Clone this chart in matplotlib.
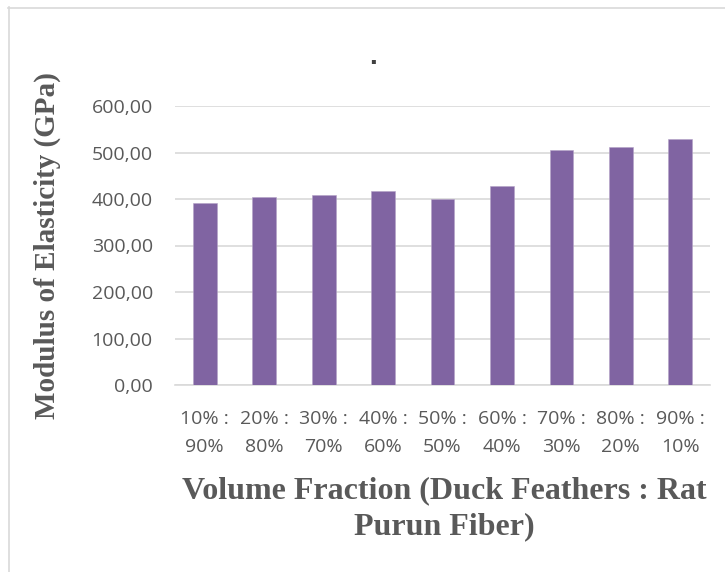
import matplotlib
matplotlib.use("Agg")
import matplotlib.pyplot as plt
from matplotlib.lines import Line2D

# Data
categories = ["10% :\n90%", "20% :\n80%", "30% :\n70%", "40% :\n60%", "50% :\n50%",
              "60% :\n40%", "70% :\n30%", "80% :\n20%", "90% :\n10%"]
modulus_gpa = [391, 404.5, 408, 417, 399.5, 427, 505, 511, 528]
y_ticks = [0, 100, 200, 300, 400, 500, 600]
y_tick_labels = ["0,00", "100,00", "200,00", "300,00", "400,00", "500,00", "600,00"]

W, H = 725, 572
fig = plt.figure(figsize=(W / 100, H / 100), dpi=100)
fig.patch.set_facecolor("white")

# chart border (top and left edges)
frame_color = "#D9D9D9"
fig.add_artist(Line2D([8 / W, 1], [1 - 7.5 / H, 1 - 7.5 / H], color=frame_color, lw=1.2,
                      transform=fig.transFigure))
fig.add_artist(Line2D([8.5 / W, 8.5 / W], [0, 1 - 7 / H], color=frame_color, lw=1.2,
                      transform=fig.transFigure))

ax = fig.add_axes([175 / W, 1 - 385 / H, 535 / W, 279 / H])
x = range(len(categories))
ax.bar(x, modulus_gpa, width=0.4, color="#8064A2", edgecolor="#B3A2C7", linewidth=0.4, zorder=3)

ax.set_xlim(-0.5, len(categories) - 0.5)
ax.set_ylim(0, 600)
ax.set_yticks(y_ticks)
ax.set_yticklabels(y_tick_labels)
ax.set_xticks(list(x))
ax.set_xticklabels(categories, linespacing=1.75)

tick_family = ["Open Sans", "DejaVu Sans"]
for lab in ax.get_yticklabels() + ax.get_xticklabels():
    lab.set_fontfamily(tick_family)
    lab.set_fontsize(14)
    lab.set_color("#595959")

ax.tick_params(axis="both", length=0)
ax.tick_params(axis="y", pad=16)
ax.tick_params(axis="x", pad=18)

ax.grid(axis="y", color="#D9D9D9", linewidth=1.2, zorder=0)
for side in ["top", "right", "left"]:
    ax.spines[side].set_visible(False)
ax.spines["bottom"].set_color("#D9D9D9")
ax.spines["bottom"].set_linewidth(1.2)

title_font = dict(family=["Liberation Serif", "DejaVu Serif"], weight="bold", color="#595959")
fig.text(444 / W, 1 - 476 / H, "Volume Fraction (Duck Feathers : Rat\nPurun Fiber)",
         ha="center", va="top", multialignment="center", fontsize=23,
         linespacing=1.33, **title_font)
fig.text(47 / W, 1 - 245.5 / H, "Modulus of Elasticity (GPa)", rotation=90,
         ha="center", va="center", fontsize=21, **title_font)

fig.text(373 / W, 1 - 64 / H, ".", ha="center", va="baseline", fontsize=20,
         weight="bold", color="#404040", family=["Liberation Sans", "DejaVu Sans"])

fig.savefig("out.png", dpi=100, facecolor="white")
